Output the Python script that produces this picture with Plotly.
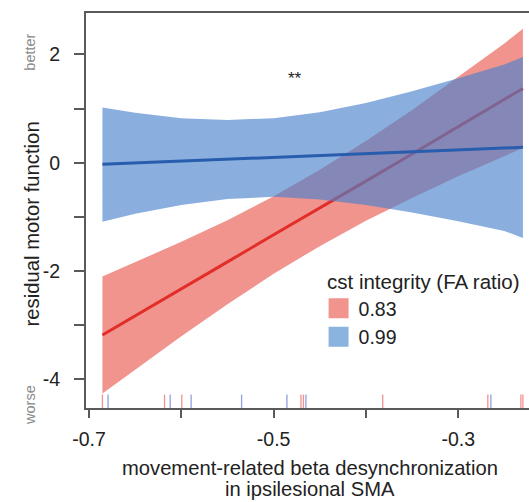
import plotly.graph_objects as go

# ---- data ----
x_grid = [-0.6855, -0.65, -0.6, -0.55, -0.5, -0.45, -0.4, -0.35, -0.3, -0.25, -0.2299]

fa_low_label = "0.83"
fa_low_fit = [-3.18, -2.83, -2.33, -1.83, -1.33, -0.84, -0.34, 0.16, 0.66, 1.16, 1.37]
fa_low_upper = [-2.10, -1.84, -1.46, -1.06, -0.62, -0.13, 0.40, 0.97, 1.58, 2.20, 2.47]
fa_low_lower = [-4.26, -3.82, -3.20, -2.61, -2.05, -1.54, -1.07, -0.65, -0.25, 0.12, 0.27]

fa_high_label = "0.99"
fa_high_fit = [-0.03, -0.006, 0.029, 0.063, 0.097, 0.132, 0.166, 0.201, 0.235, 0.270, 0.284]
fa_high_upper = [1.02, 0.92, 0.82, 0.79, 0.82, 0.93, 1.10, 1.32, 1.56, 1.81, 1.95]
fa_high_lower = [-1.09, -0.94, -0.78, -0.67, -0.63, -0.68, -0.78, -0.92, -1.08, -1.26, -1.39]

rug_low = [-0.6855, -0.6182, -0.5995, -0.4704, -0.4677, -0.3818, -0.2679, -0.2321, -0.2299]
rug_high = [-0.6794, -0.6121, -0.5894, -0.5347, -0.4856, -0.4650, -0.2646]

x_ticks = [-0.7, -0.6, -0.5, -0.4, -0.3]
x_ticktext = ["-0.7", "", "-0.5", "", "-0.3"]
y_ticks = [-4, -3, -2, -1, 0, 1, 2]
y_ticktext = ["-4", "", "-2", "", "0", "", "2"]

x_range = [-0.7033, -0.2233]
y_range = [-4.526, 2.762]

x_title_lines = ["movement-related beta desynchronization", "in ipsilesional SMA"]
y_title = "residual motor function"
legend_title = "cst integrity (FA ratio)"

# ---- styling ----
RED_BAND = "rgb(241,148,142)"
RED_LINE = "rgb(226,46,40)"
BLUE_BAND = "rgba(72,130,205,0.64)"
BLUE_LINE = "rgb(40,92,172)"
RED_RUG = "rgba(236,110,105,0.75)"
BLUE_RUG = "rgba(105,130,215,0.75)"
AXIS = "#5a5a5a"
TXT = "#222222"
FONT = "Liberation Sans, Arial, sans-serif"

fig = go.Figure()

def band(xs, up, lo, color):
    return go.Scatter(x=list(xs) + list(xs)[::-1], y=list(up) + list(lo)[::-1],
                      fill="toself", fillcolor=color, line=dict(width=0),
                      mode="lines", hoverinfo="skip", showlegend=False)

fig.add_trace(band(x_grid, fa_low_upper, fa_low_lower, RED_BAND))
fig.add_trace(go.Scatter(x=x_grid, y=fa_low_fit, mode="lines",
                         line=dict(color=RED_LINE, width=3), showlegend=False))
fig.add_trace(band(x_grid, fa_high_upper, fa_high_lower, BLUE_BAND))
fig.add_trace(go.Scatter(x=x_grid, y=fa_high_fit, mode="lines",
                         line=dict(color=BLUE_LINE, width=3), showlegend=False))

# rugs
rug_y = y_range[0] + 0.105
fig.add_trace(go.Scatter(x=rug_low, y=[rug_y] * len(rug_low), mode="markers",
                         marker=dict(symbol="line-ns-open", size=11, color=RED_RUG,
                                     line=dict(color=RED_RUG, width=1.3)),
                         showlegend=False, cliponaxis=False))
fig.add_trace(go.Scatter(x=rug_high, y=[rug_y] * len(rug_high), mode="markers",
                         marker=dict(symbol="line-ns-open", size=11, color=BLUE_RUG,
                                     line=dict(color=BLUE_RUG, width=1.3)),
                         showlegend=False, cliponaxis=False))

# legend entries
fig.add_trace(go.Scatter(x=[None], y=[None], mode="markers", name=fa_low_label,
                         marker=dict(symbol="square", size=16, color="rgb(241,148,142)",
                                     line=dict(color="rgb(241,148,142)", width=4))))
fig.add_trace(go.Scatter(x=[None], y=[None], mode="markers", name=fa_high_label,
                         marker=dict(symbol="square", size=16, color="rgb(138,180,222)",
                                     line=dict(color="rgb(138,180,222)", width=4))))

fig.add_annotation(x=-0.477, y=1.55, xref="x", yref="y", text="**", showarrow=False,
                   font=dict(size=17, color=TXT, family=FONT))
fig.add_annotation(x=0, xref="paper", xshift=-66, y=2.03, yref="y", text="better",
                   textangle=-90, showarrow=False, font=dict(size=14.5, color="#8a8a8a", family=FONT))
fig.add_annotation(x=0, xref="paper", xshift=-66, y=-4.47, yref="y", text="worse",
                   textangle=-90, showarrow=False, font=dict(size=14.5, color="#8a8a8a", family=FONT))
# axis titles
fig.add_annotation(x=0, xref="paper", xshift=-68, y=0.5, yref="paper", yshift=-14,
                   text=y_title, textangle=-90, showarrow=False,
                   font=dict(size=20.3, color=TXT, family=FONT))
for line_text, shift in zip(x_title_lines, [-60, -81]):
    fig.add_annotation(x=0.5, xref="paper", xshift=2, y=0, yref="paper", yanchor="middle",
                       yshift=shift, text=line_text, showarrow=False, borderpad=0,
                       font=dict(size=20.2, color=TXT, family=FONT))
# legend title
fig.add_annotation(x=0.540, xref="paper", xanchor="left", y=0.319, yref="paper", yanchor="middle",
                   text=legend_title, showarrow=False,
                   font=dict(size=20.5, color=TXT, family=FONT))

fig.update_layout(
    width=529, height=502,
    margin=dict(l=86, r=0, t=13, b=94),
    paper_bgcolor="white", plot_bgcolor="white",
    font=dict(family=FONT, color=TXT, size=20),
    showlegend=True,
    legend=dict(font=dict(size=19.5), x=0.525, y=0.301, xanchor="left", yanchor="top",
                bgcolor="rgba(0,0,0,0)", itemsizing="trace"),
    xaxis=dict(range=x_range, tickvals=x_ticks, ticktext=x_ticktext, automargin=False,
               showgrid=False, zeroline=False, showline=True, linecolor=AXIS, linewidth=2,
               mirror=True, ticks="outside", ticklen=8, tickwidth=2, tickcolor=AXIS,
               tickfont=dict(size=19.5), ticklabelstandoff=5),
    yaxis=dict(range=y_range, tickvals=y_ticks, ticktext=y_ticktext, automargin=False,
               showgrid=False, zeroline=False, showline=True, linecolor=AXIS, linewidth=2,
               ticks="outside", ticklen=10, tickwidth=2, tickcolor=AXIS,
               tickfont=dict(size=19.5), ticklabelstandoff=10),
)

fig.write_html("out.html")
